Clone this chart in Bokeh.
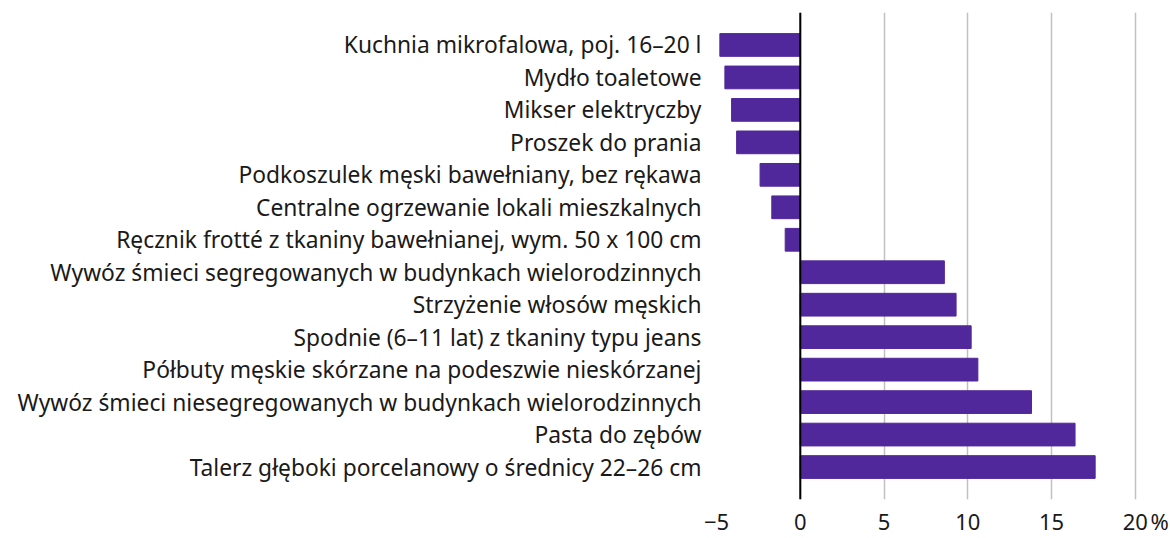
from bokeh.plotting import figure
from bokeh.models import FactorRange, Range1d, FixedTicker, Span
from bokeh.embed import file_html
from bokeh.resources import INLINE

categories = [
    "Kuchnia mikrofalowa, poj. 16–20 l",
    "Mydło toaletowe",
    "Mikser elektryczby",
    "Proszek do prania",
    "Podkoszulek męski bawełniany, bez rękawa",
    "Centralne ogrzewanie lokali mieszkalnych",
    "Ręcznik frotté z tkaniny bawełnianej, wym. 50 x 100 cm",
    "Wywóz śmieci segregowanych w budynkach wielorodzinnych",
    "Strzyżenie włosów męskich",
    "Spodnie (6–11 lat) z tkaniny typu jeans",
    "Półbuty męskie skórzane na podeszwie nieskórzanej",
    "Wywóz śmieci niesegregowanych w budynkach wielorodzinnych",
    "Pasta do zębów",
    "Talerz głęboki porcelanowy o średnicy 22–26 cm",
]
values = [-4.8, -4.5, -4.1, -3.8, -2.4, -1.7, -0.9, 8.6, 9.3, 10.2, 10.6, 13.8, 16.4, 17.6]
grid_ticks = [-5, 0, 5, 10, 15, 20]
x_tick_labels = ["−5", "0", "5", "10", "15", "20"]
unit_tick = 21.45
unit_label = "%"

FONT = "Noto Sans"
BAR = "#51289b"
TXT = "#1a1a1a"

p = figure(
    width=1170, height=538,
    y_range=FactorRange(factors=list(reversed(categories)), range_padding=0.5,
                        range_padding_units="absolute"),
    x_range=Range1d(-5, 21.5),
    output_backend="svg", toolbar_location=None,
    min_border_left=716, min_border_right=10, min_border_top=12, min_border_bottom=37,
)
p.outline_line_color = None
p.background_fill_color = "white"
p.border_fill_color = "white"

p.hbar(y=categories, right=values, left=0, height=0.7, color=BAR)

p.add_layout(Span(location=0, dimension="height", line_color="black", line_width=2))

overrides = {t: l for t, l in zip(grid_ticks, x_tick_labels)}
overrides[unit_tick] = unit_label
p.xaxis.ticker = FixedTicker(ticks=grid_ticks + [unit_tick])
p.xaxis.major_label_overrides = overrides
p.xaxis.axis_line_color = None
p.xaxis.major_tick_line_color = None
p.xaxis.minor_tick_line_color = None
p.xaxis.major_tick_out = 0
p.xaxis.major_tick_in = 0
p.xaxis.minor_tick_out = 0
p.xaxis.major_label_text_font = FONT
p.xaxis.major_label_text_font_size = "22px"
p.xaxis.major_label_text_color = TXT
p.xaxis.major_label_text_line_height = 0.8
p.xaxis.major_label_standoff = 6

p.yaxis.axis_line_color = None
p.yaxis.major_tick_line_color = None
p.yaxis.minor_tick_line_color = None
p.yaxis.major_tick_out = 0
p.yaxis.major_tick_in = 0
p.yaxis.minor_tick_out = 0
p.yaxis.major_label_text_font = FONT
p.yaxis.major_label_text_font_size = "22.8px"
p.yaxis.major_label_text_color = TXT
p.yaxis.major_label_standoff = 15

p.ygrid.grid_line_color = None
p.xgrid.ticker = FixedTicker(ticks=grid_ticks)
p.xgrid.grid_line_color = "#c0c0c0"
p.xgrid.grid_line_width = 1.5

open("out.html", "w").write(file_html(p, INLINE))
